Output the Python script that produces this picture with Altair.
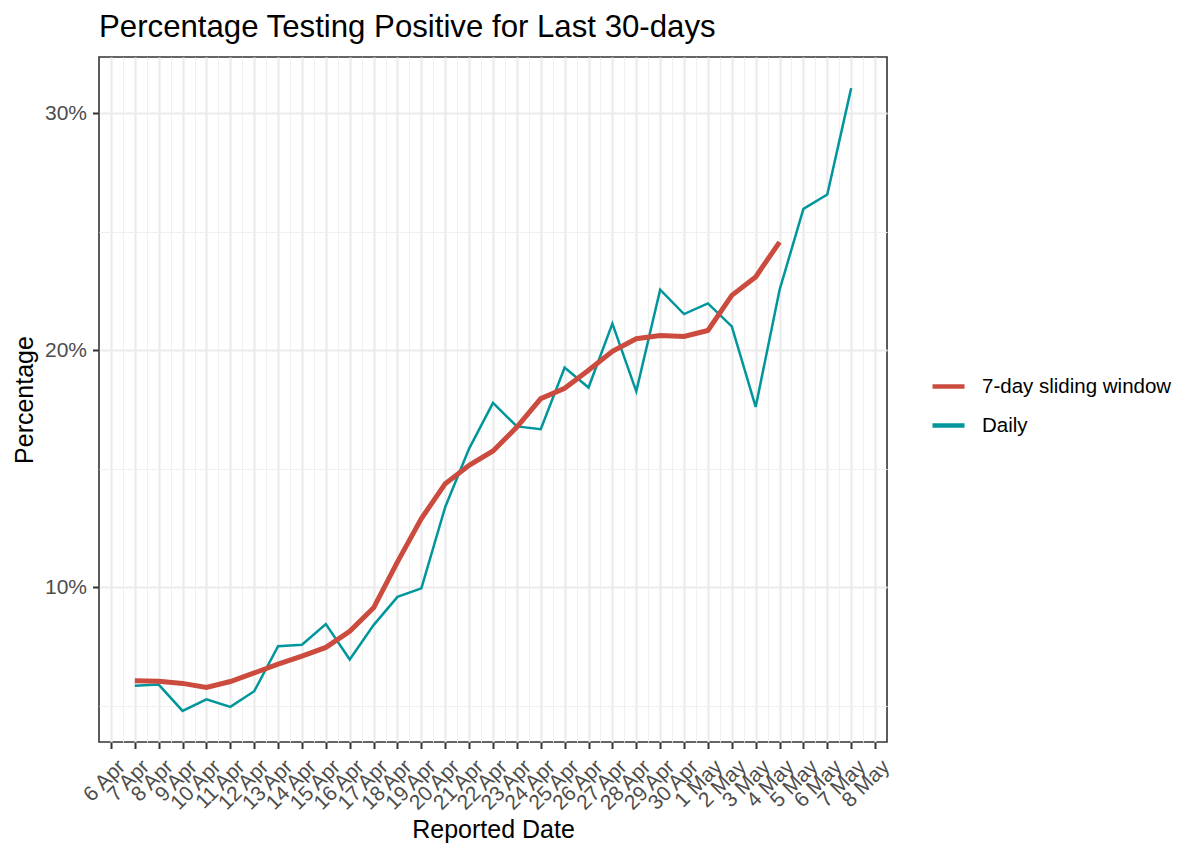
import altair as alt
import pandas as pd

# ---- data ----
daily_dates = [
    "2021-04-07", "2021-04-08", "2021-04-09", "2021-04-10", "2021-04-11",
    "2021-04-12", "2021-04-13", "2021-04-14", "2021-04-15", "2021-04-16",
    "2021-04-17", "2021-04-18", "2021-04-19", "2021-04-20", "2021-04-21",
    "2021-04-22", "2021-04-23", "2021-04-24", "2021-04-25", "2021-04-26",
    "2021-04-27", "2021-04-28", "2021-04-29", "2021-04-30", "2021-05-01",
    "2021-05-02", "2021-05-03", "2021-05-04", "2021-05-05", "2021-05-06",
    "2021-05-07",
]
daily_pct = [
    5.84, 5.89, 4.78, 5.27, 4.95, 5.61, 7.51, 7.57, 8.44, 6.95,
    8.40, 9.59, 9.95, 13.39, 15.85, 17.78, 16.79, 16.67, 19.27, 18.43,
    21.13, 18.27, 22.56, 21.53, 21.98, 21.01, 17.61, 22.55, 25.97, 26.58,
    31.07,
]
window_dates = daily_dates[:28]
window_pct = [
    6.05, 6.03, 5.94, 5.77, 6.02, 6.38, 6.75, 7.09, 7.46, 8.14,
    9.13, 11.07, 12.90, 14.37, 15.15, 15.75, 16.76, 17.96, 18.40, 19.16,
    19.96, 20.49, 20.63, 20.59, 20.84, 22.32, 23.10, 24.57,
]
series_names = ["7-day sliding window", "Daily"]
series_colors = ["#CB4B3E", "#00969B"]
# axis breaks: first and last labelled day, y breaks (major every 10, minor between)
x_first_tick = "2021-04-06"
x_last_tick = "2021-05-08"
y_breaks = [5, 10, 15, 20, 25, 30]

df = pd.concat([
    pd.DataFrame({"date": daily_dates, "pct": daily_pct, "series": "Daily"}),
    pd.DataFrame({"date": window_dates, "pct": window_pct, "series": "7-day sliding window"}),
])

# ggplot-like 5% expansion
lo, hi = min(daily_pct + window_pct), max(daily_pct + window_pct)
pad = 0.05 * (hi - lo)
yscale = alt.Scale(domain=[lo - pad, hi + pad], nice=False, zero=False)
xscale = alt.Scale(
    type="utc",
    domain=[
        alt.DateTime(year=2021, month=4, date=5, hours=12, utc=True),
        alt.DateTime(year=2021, month=5, date=8, hours=12, utc=True),
    ],
    nice=False,
)

# major ticks each day, minor grid lines at each half day
x_breaks = [
    alt.DateTime(year=t.year, month=t.month, date=t.day, hours=t.hour, utc=True)
    for t in pd.date_range(x_first_tick, x_last_tick, freq="12h")
]

is_day = "utchours(datum.value) == 0"
is_major_y = "datum.value % 10 == 0"

FONT = "Liberation Sans"

color = alt.Color(
    "series:N",
    scale=alt.Scale(domain=series_names, range=series_colors),
    legend=alt.Legend(title=None),
)

x_axis = alt.Axis(
    title="Reported Date",
    values=x_breaks,
    labelExpr=f"{is_day} ? utcFormat(datum.value, '%-d %b') : ''",
    labelAngle=-45, labelAlign="right", labelBaseline="top",
    labelOverlap=False, labelFlush=False, labelPadding=7, labelOffset=3,
    titlePadding=3,
    gridWidth={"condition": {"test": is_day, "value": 2.2}, "value": 1.1},
    gridColor={"condition": {"test": is_day, "value": "#EBEBEB"}, "value": "#F0F0F0"},
    tickOpacity={"condition": {"test": is_day, "value": 1}, "value": 0},
)
y_axis = alt.Axis(
    title="Percentage",
    values=y_breaks,
    labelExpr=f"{is_major_y} ? datum.value + '%' : ''",
    labelPadding=6, titlePadding=7,
    gridWidth={"condition": {"test": is_major_y, "value": 2.2}, "value": 1.1},
    gridColor={"condition": {"test": is_major_y, "value": "#EBEBEB"}, "value": "#F0F0F0"},
    tickOpacity={"condition": {"test": is_major_y, "value": 1}, "value": 0},
)

base = alt.Chart(df).encode(
    x=alt.X("date:T", scale=xscale, axis=x_axis),
    y=alt.Y("pct:Q", scale=yscale, axis=y_axis),
    color=color,
)

daily_layer = base.mark_line(strokeWidth=2.5).transform_filter("datum.series == 'Daily'")
window_layer = base.mark_line(strokeWidth=5).transform_filter("datum.series == '7-day sliding window'")

chart = (
    alt.layer(daily_layer, window_layer)
    .properties(
        width=788,
        height=685,
        autosize=alt.AutoSizeParams(type="none"),
        padding={"left": 91, "top": 49, "right": 305, "bottom": 115},
        title=alt.TitleParams(
            text="Percentage Testing Positive for Last 30-days",
            anchor="start", frame="group", fontSize=31.2, font=FONT,
            fontWeight="normal", color="black", offset=14,
        ),
    )
    .configure(font=FONT)
    .configure_view(stroke="#333333", strokeWidth=1.6)
    .configure_axis(
        domain=False,
        grid=True,
        tickColor="#333333",
        tickWidth=2,
        tickSize=6.5,
        labelFont=FONT,
        labelFontSize=21,
        labelColor="#4D4D4D",
        titleFont=FONT,
        titleFontSize=25,
        titleFontWeight="normal",
        titleColor="black",
    )
    .configure_legend(
        orient="none",
        legendX=831,
        legendY=311,
        padding=0,
        symbolType="stroke",
        symbolSize=1024,
        symbolStrokeWidth=4.5,
        labelFont=FONT,
        labelFontSize=20.5,
        labelColor="black",
        labelOffset=15,
        labelLimit=400,
        rowPadding=10,
    )
)

chart.save("out.html", embed_options={"renderer": "svg", "actions": False})
